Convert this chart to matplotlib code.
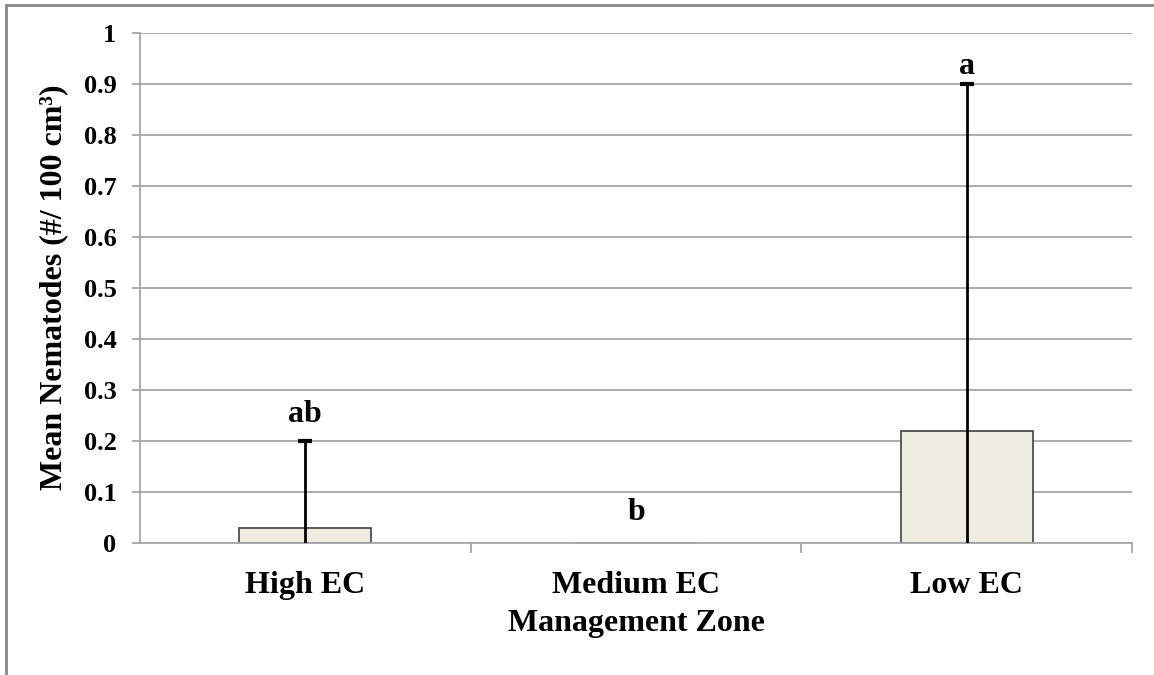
import numpy as np
import matplotlib.pyplot as plt
from matplotlib.patches import Rectangle

# Data
zones = ['High EC', 'Medium EC', 'Low EC']
means = [0.03, 0.0, 0.22]
err_plus = [0.17, 0.0, 0.68]
letters = ['ab', 'b', 'a']
letter_y = [0.251, 0.059, 0.935]

plt.rcParams['font.family'] = ['Liberation Serif', 'DejaVu Serif']
plt.rcParams['font.weight'] = 'bold'

fig = plt.figure(figsize=(11.54, 6.75), dpi=100)
ax = fig.add_axes([140/1154, 1 - 543/675, (1132 - 140)/1154, (543 - 33)/675])

x = np.arange(len(zones))
ax.bar(x, means, width=0.4, color='#EEECE1', edgecolor='#404040', linewidth=1.2, zorder=2)

# error bars: drawn from 0 up to mean + error, cap only on top
for xi, m, e in zip(x, means, err_plus):
    if e > 0:
        ax.vlines(xi, 0, m + e, color='black', linewidth=2, zorder=3)
        ax.plot([xi], [m + e], marker='_', markersize=10, markeredgewidth=3, color='black', zorder=3)

for xi, lab, ly in zip(x, letters, letter_y):
    ax.text(xi, ly, lab, ha='center', va='center', fontsize=23, fontweight='bold')

ax.set_xlim(-0.5, 2.5)
ax.set_ylim(0, 1)
ax.set_yticks(np.arange(0, 1.01, 0.1))
ax.set_yticklabels(['0'] + ['%.1f' % v for v in np.arange(0.1, 0.95, 0.1)] + ['1'])
ax.yaxis.grid(True, color='#A6A6A6', linewidth=1.3, zorder=0)
ax.set_axisbelow(True)

ax.set_xticks(x)
ax.set_xticklabels(zones)
ax.set_xticks([0.5, 1.5, 2.5], minor=True)
ax.tick_params(axis='x', which='major', length=0, pad=20, labelsize=23)
ax.tick_params(axis='x', which='minor', length=7, color='#A6A6A6', width=1.3)
ax.tick_params(axis='y', length=6, color='#A6A6A6', width=1.3, labelsize=19, pad=11)

for side in ['top', 'right']:
    ax.spines[side].set_visible(False)
for side in ['left', 'bottom']:
    ax.spines[side].set_color('#A6A6A6')
    ax.spines[side].set_linewidth(1.3)

ax.set_xlabel('Management Zone', fontsize=23, fontweight='bold', labelpad=7)
ax.set_ylabel('Mean Nematodes (#/ 100 cm\u00b3)', fontsize=23, fontweight='bold')
ax.yaxis.set_label_coords(-0.0726, 0.502)

# outer chart border
fig.patches.append(Rectangle((6/1154, -0.1), 1.2, 1 - 5/675 + 0.1, transform=fig.transFigure,
                             fill=False, edgecolor='#868686', linewidth=2))

fig.savefig('out.png', dpi=100)
